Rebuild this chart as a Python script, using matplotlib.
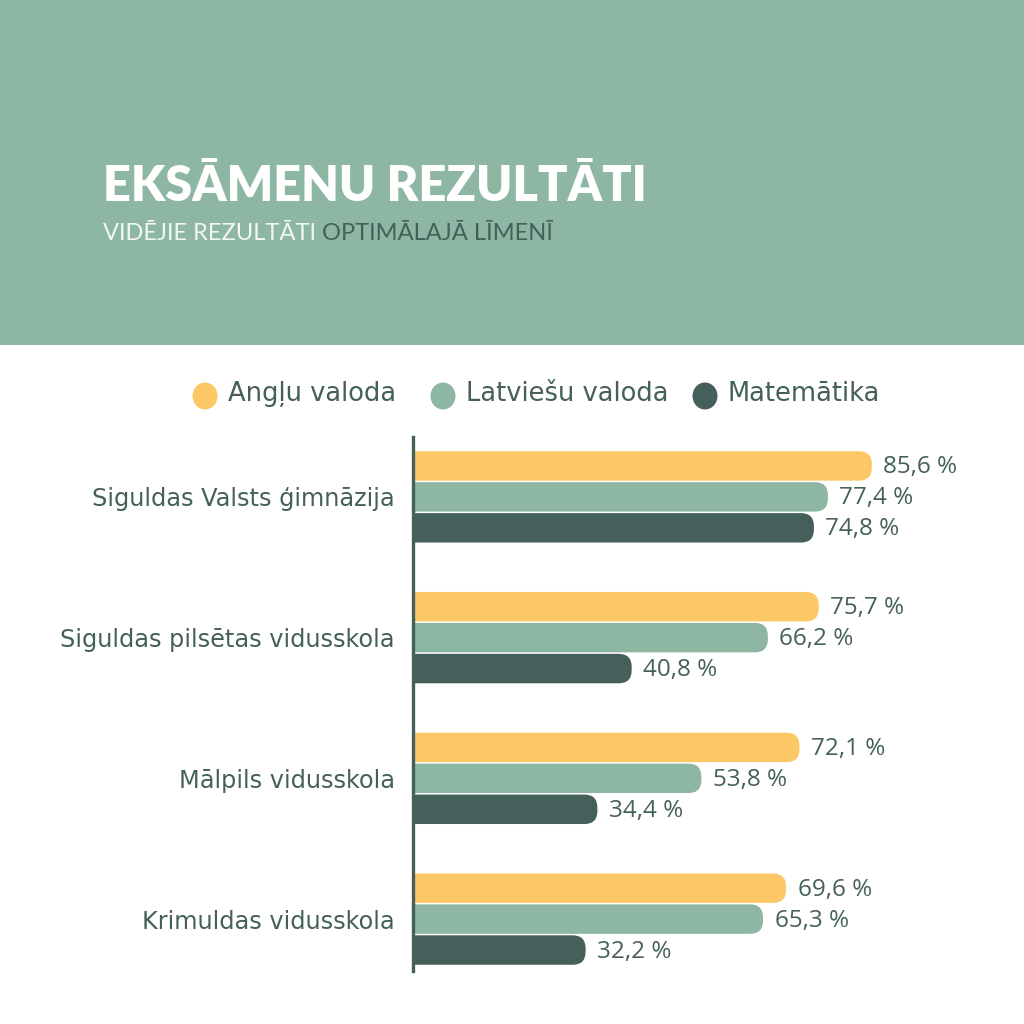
import matplotlib
matplotlib.use("Agg")
import matplotlib.pyplot as plt
from matplotlib.patches import FancyBboxPatch, Rectangle, Ellipse

schools = ["Siguldas Valsts ģimnāzija", "Siguldas pilsētas vidusskola",
           "Mālpils vidusskola", "Krimuldas vidusskola"]
series = ["Angļu valoda", "Latviešu valoda", "Matemātika"]
angļu = [85.6, 75.7, 72.1, 69.6]
latviešu = [77.4, 66.2, 53.8, 65.3]
matemātika = [74.8, 40.8, 34.4, 32.2]
values = [angļu, latviešu, matemātika]

title = "EKSĀMENU REZULTĀTI"
subtitle_a = "VIDĒJIE REZULTĀTI "
subtitle_b = "OPTIMĀLAJĀ LĪMENĪ"

YELLOW = "#fcc865"
GREEN = "#8db7a3"
DARK = "#45605b"
colors = [YELLOW, GREEN, DARK]
FONT = ["Lato", "DejaVu Sans"]
WIDE = ["DejaVu Sans"]
VALF = ["Open Sans", "DejaVu Sans"]

W = H = 1024
fig = plt.figure(figsize=(10.24, 10.24), dpi=100)
fig.patch.set_facecolor("white")

# header band
fig.patches.append(Rectangle((0, 1 - 345 / H), 1, 345 / H, transform=fig.transFigure,
                             facecolor=GREEN, edgecolor="none", zorder=0))
fig.text(103 / W, 1 - 201 / H, title, color="white", fontsize=35, fontweight="heavy",
         family=FONT, ha="left", va="baseline")
t1 = fig.text(103 / W, 1 - 240 / H, subtitle_a, color="#f2f7f4", fontsize=17,
              family=FONT, ha="left", va="baseline")
fig.canvas.draw()
bb = t1.get_window_extent()
fig.text(bb.x1 / W, 1 - 240 / H, subtitle_b, color=DARK, fontsize=17,
         family=FONT, ha="left", va="baseline")

# legend
leg_x = [205, 443, 705]
for lx, name, c in zip(leg_x, series, colors):
    fig.patches.append(Ellipse((lx / W, 1 - 396 / H), 25 / W, 27 / H,
                               transform=fig.transFigure, facecolor=c, edgecolor="none"))
    fig.text((lx + 23) / W, 1 - 394 / H, name, color=DARK, fontsize=18.5, family=WIDE,
             ha="left", va="center")

# axes
ax_left, ax_right = 413, 949
ax_top, ax_bot = 437, 971
ax = fig.add_axes([ax_left / W, 1 - ax_bot / H, (ax_right - ax_left) / W, (ax_bot - ax_top) / H])
ax.set_facecolor("none")
gs = 141.0  # group spacing px
ax.set_xlim(0, 100)
ax.set_ylim(3 + (ax_bot - 919) / gs, -(497 - ax_top) / gs)

xpp = 100 / (ax_right - ax_left)
ypp = 1 / gs
aspect = ypp / xpp
bar_h = 29.5 / gs
offs = [-31 / gs, 0, 31 / gs]
for si, (vals, c) in enumerate(zip(values, colors)):
    ys = [g + offs[si] for g in range(len(schools))]
    bars = ax.barh(ys, vals, height=bar_h, color=c)
    for rect, v, y in zip(bars, vals, ys):
        rect.set_visible(False)
        x0 = -5
        p = FancyBboxPatch((x0, y - bar_h / 2), v - x0, bar_h,
                           boxstyle=f"round,pad=0,rounding_size={13 * xpp}",
                           mutation_aspect=aspect, facecolor=c, edgecolor="none",
                           zorder=2, clip_on=True)
        ax.add_patch(p)
        ax.text(v + 11.5 * xpp, y + 1.5 / gs, f"{v:.1f}".replace(".", ",") + " %", color=DARK,
                fontsize=17.5, family=VALF, ha="left", va="center", clip_on=False)

ax.set_yticks(range(len(schools)))
ax.set_yticklabels(schools, fontsize=17.3, color=DARK, family=WIDE)
ax.tick_params(axis="y", length=0, pad=13)
ax.set_xticks([])
for s in ["top", "right", "bottom"]:
    ax.spines[s].set_visible(False)
ax.spines["left"].set_color(DARK)
ax.spines["left"].set_linewidth(2.4)
ax.spines["left"].set_zorder(5)

fig.savefig("out.png", dpi=100, facecolor="white")
